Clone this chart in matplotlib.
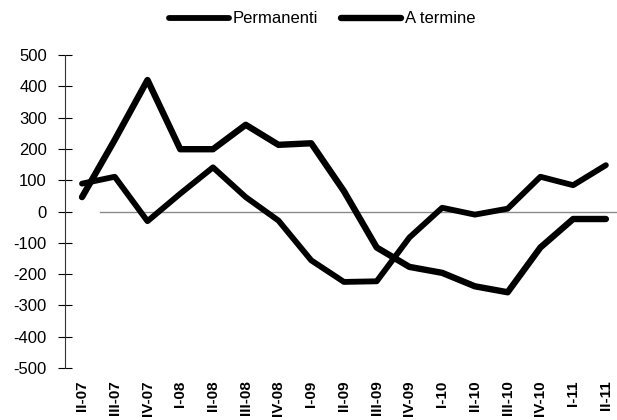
import matplotlib
matplotlib.use("Agg")
import matplotlib.pyplot as plt

plt.rcParams['font.family'] = ['Liberation Sans', 'DejaVu Sans']

# quarterly changes
trimestri = ['II-07', 'III-07', 'IV-07', 'I-08', 'II-08', 'III-08', 'IV-08',
             'I-09', 'II-09', 'III-09', 'IV-09', 'I-10', 'II-10', 'III-10',
             'IV-10', 'I-11', 'II-11']
permanenti = [89, 111, -31, 57, 141, 46, -29, -156, -225, -223, -83, 12,
              -10, 9, 111, 84, 148]
a_termine = [46, 229, 420, 199, 199, 277, 213, 218, 65, -115, -177, -196,
             -239, -258, -115, -24, -24]
yticks = list(range(-500, 501, 100))

fig = plt.figure(figsize=(6.17, 4.2), dpi=100)
ax = fig.add_axes([65 / 617, 52 / 420, 552 / 617, 313 / 420])

x = range(len(trimestri))
ax.plot(x, permanenti, color='black', lw=4.2, solid_joinstyle='round',
        solid_capstyle='round', label='Permanenti', zorder=3)
ax.plot(x, a_termine, color='black', lw=4.6, solid_joinstyle='round',
        solid_capstyle='round', label='A termine', zorder=3)

# zero line
ax.axhline(0, xmin=0.063, xmax=1, color='#8a8a8a', lw=1.0, zorder=1)

ax.set_xlim(-0.52, 16.34)
ax.set_ylim(-500, 500)
ax.set_yticks(yticks)
ax.set_yticklabels([str(v) for v in yticks], fontsize=12)
ax.set_xticks(list(x))
ax.set_xticklabels(trimestri, rotation=90, fontsize=11, fontweight='bold')

ax.tick_params(axis='y', direction='inout', length=10, width=0.8, pad=8)
ax.tick_params(axis='x', length=0, pad=9)

for s in ['top', 'right', 'bottom']:
    ax.spines[s].set_visible(False)
ax.spines['left'].set_linewidth(0.8)
ax.spines['left'].set_color('#333333')

fig.legend(loc='center', bbox_to_anchor=(0.522, 0.955), ncol=2, frameon=False,
           fontsize=12, handlelength=3.6, handletextpad=0.2, columnspacing=1.4)

fig.savefig('out.png', dpi=100)
